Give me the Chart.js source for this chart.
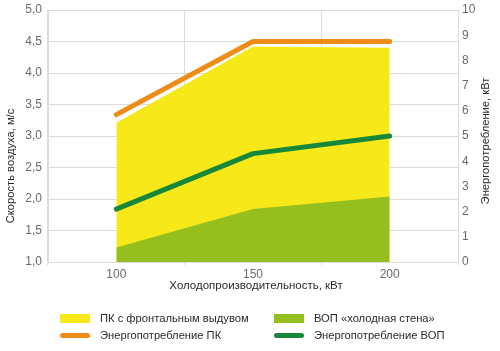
<!DOCTYPE html>
<html>
<head>
<meta charset="utf-8">
<script src="https://cdn.jsdelivr.net/npm/chart.js@4.4.1/dist/chart.umd.min.js"></script>
<style>
  html, body { margin: 0; padding: 0; background: #fff; }
  #wrap { position: relative; width: 500px; height: 351px; font-family: "Liberation Sans", Arial, sans-serif; }
  #c { position: absolute; left: 0; top: 0; }
  .lg { position: absolute; height: 14px; line-height: 14px; font-size: 11.2px; color: #2a2a2a; white-space: nowrap; }
  .lg .sw { position: absolute; left: 0; }
  .lg .tx { position: absolute; left: 40px; top: 0; }
</style>
</head>
<body>
<div id="wrap">
  <canvas id="c" width="500" height="351"></canvas>
  <div id="legend"></div>
</div>
<script>
// ---- data ----
const categories = ['100', '150', '200'];
const pkSpeed = [3.21, 4.42, 4.40];      // ПК с фронтальным выдувом, м/с
const vopSpeed = [1.23, 1.84, 2.04];     // ВОП «холодная стена», м/с
const pkPower = [5.85, 8.75, 8.75];      // Энергопотребление ПК, кВт
const vopPower = [2.1, 4.3, 5.0];        // Энергопотребление ВОП, кВт
const seriesNames = ['ПК с фронтальным выдувом', 'ВОП «холодная стена»', 'Энергопотребление ПК', 'Энергопотребление ВОП'];
const speedTickLabels = ['1,0', '1,5', '2,0', '2,5', '3,0', '3,5', '4,0', '4,5', '5,0'];
const powerTickLabels = ['0', '1', '2', '3', '4', '5', '6', '7', '8', '9', '10'];
const xTitle = 'Холодопроизводительность, кВт';
const yTitle = 'Скорость воздуха, м/с';
const y1Title = 'Энергопотребление, кВт';

const colors = ['#F7E81A', '#95BF1F', '#EF8C18', '#17873A'];
const FONT = '"Liberation Sans", Arial, sans-serif';

const titlePlugin = {
  id: 'titles',
  afterDraw(chart) {
    const ctx = chart.ctx;
    ctx.save();
    ctx.fillStyle = '#2a2a2a';
    ctx.textAlign = 'center';
    ctx.textBaseline = 'middle';
    ctx.font = '11.5px ' + FONT;
    ctx.fillText(xTitle, 256, 286);
    ctx.font = '11.2px ' + FONT;
    ctx.save();
    ctx.translate(11, 166);
    ctx.rotate(-Math.PI / 2);
    ctx.fillText(yTitle, 0, 0);
    ctx.restore();
    ctx.save();
    ctx.translate(486, 141);
    ctx.rotate(-Math.PI / 2);
    ctx.fillText(y1Title, 0, 0);
    ctx.restore();
    ctx.restore();
  }
};

function noVPad(s) { s.paddingTop = 0; s.paddingBottom = 0; }

const chart = new Chart(document.getElementById('c'), {
  type: 'line',
  data: {
    labels: categories,
    datasets: [
      { label: seriesNames[0], data: pkSpeed, yAxisID: 'y', fill: 'start', backgroundColor: colors[0], borderWidth: 0, pointRadius: 0, order: 4 },
      { label: seriesNames[1], data: vopSpeed, yAxisID: 'y', fill: 'start', backgroundColor: colors[1], borderWidth: 0, pointRadius: 0, order: 3 },
      { label: seriesNames[2], data: pkPower, yAxisID: 'y1', fill: false, borderColor: colors[2], borderWidth: 5, borderCapStyle: 'round', borderJoinStyle: 'round', pointRadius: 0, order: 2 },
      { label: seriesNames[3], data: vopPower, yAxisID: 'y1', fill: false, borderColor: colors[3], borderWidth: 5, borderCapStyle: 'round', borderJoinStyle: 'round', pointRadius: 0, order: 1 }
    ]
  },
  options: {
    responsive: false,
    animation: false,
    layout: { padding: { top: 10, left: 0, right: 0, bottom: 0 } },
    plugins: { legend: { display: false }, tooltip: { enabled: false } },
    scales: {
      x: {
        type: 'category',
        offset: true,
        grid: { offset: true, color: '#dcdcdc', drawTicks: true, tickLength: 3 },
        border: { color: '#dcdcdc' },
        ticks: { color: '#6a6a6a', font: { family: FONT, size: 12 }, padding: 2 },
        afterFit(s) { s.height = 89; s.paddingLeft = 0; s.paddingRight = 0; }
      },
      y: {
        position: 'left',
        min: 1, max: 5,
        ticks: { stepSize: 0.5, color: '#6a6a6a', font: { family: FONT, size: 12 }, padding: 6,
          callback: (v, i) => speedTickLabels[i] },
        grid: { color: '#dcdcdc', drawTicks: false },
        border: { color: '#dcdcdc' },
        afterFit(s) { s.width = 48; noVPad(s); }
      },
      y1: {
        position: 'right',
        min: 0, max: 10,
        ticks: { stepSize: 1, color: '#6a6a6a', font: { family: FONT, size: 12 }, padding: 4,
          callback: (v, i) => powerTickLabels[i] },
        grid: { display: false, drawTicks: false },
        border: { color: '#dcdcdc' },
        afterFit(s) { s.width = 42; noVPad(s); }
      }
    }
  },
  plugins: [titlePlugin]
});

// ---- legend (HTML) ----
const legendPos = [
  { x: 60, y: 311 }, { x: 274, y: 311 },
  { x: 60, y: 328 }, { x: 274, y: 328 }
];
const lg = document.getElementById('legend');
seriesNames.forEach((name, i) => {
  const d = document.createElement('div');
  d.className = 'lg';
  d.style.left = legendPos[i].x + 'px';
  d.style.top = legendPos[i].y + 'px';
  const sw = document.createElement('span');
  sw.className = 'sw';
  sw.style.width = '30px';
  sw.style.background = colors[i];
  if (i < 2) { sw.style.height = '9px'; sw.style.top = '2.5px'; }
  else { sw.style.height = '5px'; sw.style.top = '4.5px'; sw.style.borderRadius = '3px'; }
  const tx = document.createElement('span');
  tx.className = 'tx';
  tx.textContent = name;
  d.appendChild(sw); d.appendChild(tx);
  lg.appendChild(d);
});
</script>
</body>
</html>
